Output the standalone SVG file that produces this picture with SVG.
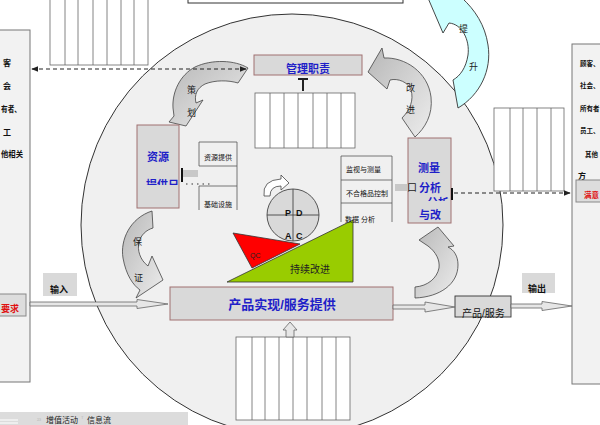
<svg xmlns="http://www.w3.org/2000/svg" width="600" height="425" viewBox="0 0 600 425">
<defs>
<linearGradient id="g1" x1="0" y1="0" x2="1" y2="1">
<stop offset="0" stop-color="#b8b8b8"/><stop offset="1" stop-color="#ececec"/>
</linearGradient>
<marker id="ah" viewBox="0 0 10 10" refX="9" refY="5" markerWidth="6" markerHeight="6" orient="auto-start-reverse">
<path d="M0,1 L10,5 L0,9 Z" fill="#222"/>
</marker>
<clipPath id="clipA"><rect x="140" y="176" width="40" height="9"/></clipPath>
<clipPath id="clipB"><rect x="420" y="196" width="30" height="5"/></clipPath>
</defs>
<style>
text{font-family:"Liberation Sans","Noto Sans CJK SC",sans-serif;}
.panel{fill:#f2f2f2;stroke:#777;stroke-width:1}
.box{fill:#d9d9d9;stroke:#a07070;stroke-width:1}
.gbox{fill:#d9d9d9;stroke:none}
.cols{fill:#fff;stroke:#666;stroke-width:0.8}
.arr{fill:url(#g1);stroke:#444;stroke-width:0.8}
.blue{fill:#1f1fc8;font-weight:bold}
.pt{fill:#111;font-size:8px;font-weight:bold}
.rt{fill:#111;font-size:6.5px;font-weight:bold}
.sm{fill:#111;font-size:7px}
.lbl{fill:#222;font-size:9px}
.dash{stroke:#222;stroke-width:1.2;stroke-dasharray:4,3;fill:none}
.hol{fill:#e6e6e6;stroke:#666;stroke-width:0.8}
</style>
<rect width="600" height="425" fill="#fff"/>

<g id="circle"><ellipse cx="292" cy="225" rx="211" ry="211" fill="#f0f0f0" stroke="#333" stroke-width="1"/></g>

<g id="topbox"><rect x="188" y="-10" width="215" height="13" fill="#fff" stroke="#333"/></g>

<g id="left-panel">
<rect class="panel" x="-10" y="30" width="40" height="352"/>
<text class="pt" x="3" y="66">客</text>
<text class="pt" x="3" y="89">会</text>
<text class="pt" x="1" y="112" textLength="20" lengthAdjust="spacingAndGlyphs">有者、</text>
<text class="pt" x="3" y="135">工</text>
<text class="pt" x="1" y="157" textLength="22" lengthAdjust="spacingAndGlyphs">他相关</text>
<rect x="-10" y="294" width="36" height="22" fill="#ddd" stroke="#888"/>
<text x="1" y="312" font-size="9" font-weight="bold" fill="#e01010">要求</text>
</g>

<g id="right-panel">
<rect class="panel" x="572" y="44" width="40" height="340"/>
<text class="rt" x="580" y="66">顾客、</text>
<text class="rt" x="580" y="88">社会、</text>
<text class="rt" x="580" y="111">所有者</text>
<text class="rt" x="580" y="133">员工、</text>
<text class="rt" x="585" y="157">其他</text>
<text class="pt" x="578" y="179">方</text>
<rect x="576" y="180" width="30" height="22" fill="#ddd" stroke="#888"/>
<text x="584" y="198" font-size="7.5" font-weight="bold" fill="#e01010">满意</text>
</g>

<g id="cols-topleft">
<rect class="cols" x="50" y="-5" width="98" height="70"/>
<path d="M65,-5V65M78,-5V65M93,-5V65M107,-5V65M121,-5V65M134,-5V65" stroke="#666" stroke-width="0.8"/>
</g>

<g id="cols-topright">
<rect class="cols" x="494" y="108" width="70" height="83"/>
<path d="M510,108V191M523,108V191M537,108V191M551,108V191" stroke="#666" stroke-width="0.8"/>
</g>

<g id="cols-mid">
<rect class="cols" x="255" y="93" width="100" height="55"/>
<path d="M270,93V148M284,93V148M298,93V148M313,93V148M327,93V148M341,93V148" stroke="#666" stroke-width="0.8"/>
</g>

<g id="cols-bottom">
<rect class="cols" x="236" y="337" width="114" height="83"/>
<path d="M252,337V420M265,337V420M279,337V420M293,337V420M307,337V420M322,337V420M336,337V420" stroke="#666" stroke-width="0.8"/>
</g>

<g id="arrow-tisheng">
<path d="M428,-2 L443,33 L449,23 C462,24 470,40 468,55 C466,68 460,76 453,80 L458,108 C480,95 492,70 488,45 C485,25 475,10 462,-2 Z" fill="#ccffff" stroke="#333" stroke-width="0.9"/>
<text class="lbl" x="459" y="32">提</text>
<text class="lbl" x="469" y="70">升</text>
</g>

<g id="arrow-cehua">
<path class="arr" d="M248,68 C235,60 212,59 195,67 C180,75 172,92 173,108 L174,116 L169,122 L186,126 L203,100 L196,103 C194,95 197,88 205,84 C215,80 228,80 238,83 Z"/>
<text class="lbl" x="187" y="93" fill="#555">策</text>
<text class="lbl" x="187" y="116" fill="#555">划</text>
</g>

<g id="arrow-gaijin">
<path class="arr" d="M368,72 L382,48 L384,58 C405,57 428,72 431,97 C433,115 425,128 415,137 L402,118 C410,110 414,100 411,90 C408,82 398,78 390,80 L387,89 Z"/>
<text class="lbl" x="406" y="91">改</text>
<text class="lbl" x="406" y="113">进</text>
</g>

<g id="arrow-baozheng">
<path class="arr" d="M152,211 C130,218 120,240 123,258 C126,275 133,285 140,290 L136,298 L163,280 L152,256 L148,266 C140,260 137,250 139,242 C141,235 146,230 153,228 Z"/>
<text class="lbl" x="133" y="245">保</text>
<text class="lbl" x="134" y="281">证</text>
</g>

<g id="arrow-br">
<path class="arr" d="M415,298 C440,297 458,284 458,265 C458,256 454,250 448,247 L454,246 L438,227 L419,240 L428,246 C436,252 440,260 439,268 C437,278 428,286 415,287 Z"/>
</g>

<g id="guanli">
<rect class="box" x="254" y="55" width="108" height="20"/>
<text class="blue" x="308" y="73" font-size="11" text-anchor="middle">管理职责</text>
<path d="M298,79H308M303,79V91" stroke="#222" stroke-width="2"/>
</g>

<g id="ziyuan">
<rect class="box" x="137" y="125" width="42" height="83"/>
<text class="blue" x="147" y="161" font-size="11">资源</text>
<text class="blue" x="146" y="189" font-size="11" clip-path="url(#clipA)">提供日</text>
<rect x="181" y="170" width="17" height="7" fill="#c8c8c8"/>
<path d="M182,168V182" stroke="#111" stroke-width="2"/>
<path d="M186,184H212" stroke="#333" stroke-width="1.2" stroke-dasharray="1.5,4"/>
</g>

<g id="ziyuan-list">
<path d="M199,142H237M199,142V166M237,142V210M199,166H237M199,186H237M199,186V210" stroke="#555" stroke-width="0.8" fill="none"/>
<text class="sm" x="204" y="160">资源提供</text>
<text class="sm" x="204" y="207">基础设施</text>
</g>

<g id="celiang">
<rect class="box" x="408" y="138" width="43" height="85"/>
<text class="blue" x="418" y="172" font-size="11">测量</text>
<rect x="395" y="184" width="13" height="7" fill="#c8c8c8"/>
<text x="407" y="191" font-size="10" fill="#222">口</text>
<text class="blue" x="419" y="192" font-size="11">分析</text>
<text class="blue" x="427" y="207" font-size="11" clip-path="url(#clipB)">分析</text>
<text class="blue" x="419" y="219" font-size="11">与改</text>
<path d="M452,188V200" stroke="#111" stroke-width="2"/>
</g>

<g id="celiang-list">
<path d="M341,156H392M341,156V222M392,156V222M341,180H392M341,203H392" stroke="#555" stroke-width="0.8" fill="none"/>
<text class="sm" x="346" y="172">监视与测量</text>
<text class="sm" x="346" y="196">不合格品控制</text>
</g>

<g id="green-tri">
<path d="M227,282 L353,220 L353,282 Z" fill="#99cc00" stroke="#333" stroke-width="0.8"/>
<text x="290" y="273" font-size="10" fill="#222">持续改进</text>
</g>

<g id="red-tri">
<path d="M233,233 L300,244 L252,268 Z" fill="#ff0000" stroke="#333" stroke-width="0.8"/>
<text x="250" y="258" font-size="7" fill="#222">QC</text>
</g>
<text class="sm" x="345" y="222">数据 分析</text>

<g id="pdca">
<circle cx="293" cy="215" r="26" fill="#d9d9d9" stroke="#444" stroke-width="0.9"/>
<path d="M267,215H319M293,189V241" stroke="#444" stroke-width="0.9"/>
<text x="285" y="216" font-size="9" font-weight="bold" fill="#111">P</text>
<text x="296" y="216" font-size="9" font-weight="bold" fill="#111">D</text>
<text x="285" y="239" font-size="9" font-weight="bold" fill="#111">A</text>
<text x="296" y="239" font-size="9" font-weight="bold" fill="#111">C</text>
<path d="M264,196 Q262,180 281,179 L281,175 L289,183 L281,190 L281,186 Q270,186 270,196 Z" fill="#fff" stroke="#444" stroke-width="0.8"/>
</g>

<g id="chanpin">
<rect class="box" x="170" y="287" width="223" height="33"/>
<text class="blue" x="282" y="309" font-size="13" text-anchor="middle">产品实现/服务提供</text>
</g>

<g id="shuru">
<rect class="gbox" x="43" y="273" width="34" height="23"/>
<text x="50" y="293" font-size="9" font-weight="bold" fill="#111">输入</text>
</g>

<g id="shuchu">
<rect class="gbox" x="522" y="273" width="33" height="20"/>
<text x="528" y="292" font-size="9" font-weight="bold" fill="#111">输出</text>
</g>

<g id="chanpin-fuwu">
<rect x="455" y="296" width="56" height="21" fill="#d9d9d9" stroke="#333" stroke-width="0.9"/>
<text x="462" y="317" font-size="10" fill="#111">产品/服务</text>
</g>

<g id="legend">
<rect x="0" y="412" width="188" height="20" fill="#dcdcdc"/>
<path d="M0,420H18M0,423H18" stroke="#fff" stroke-width="1.2"/>
<text x="37" y="422" font-size="6" fill="#bbb">²³</text>
<text x="46" y="423" font-size="8" fill="#222">增值活动</text>
<text x="81" y="421" font-size="6" fill="#bbb">ᵀ</text>
<text x="87" y="423" font-size="8" fill="#222">信息流</text>
</g>

<g id="connectors">
<path class="dash" d="M32,69H246" marker-start="url(#ah)" marker-end="url(#ah)"/>
<path class="dash" d="M454,193H570" marker-end="url(#ah)"/>
<path class="hol" d="M30,302H137V299.5L168,304L137,308.5V306H30Z"/>
<path class="hol" d="M393,305H425V302L455,307L425,312V309H393Z"/>
<path class="hol" d="M511,304H542V301.5L572,306L542,310.5V308H511Z"/>
<path class="hol" d="M290,322L297,330H294V337H286V330H283Z"/>
</g>
</svg>
